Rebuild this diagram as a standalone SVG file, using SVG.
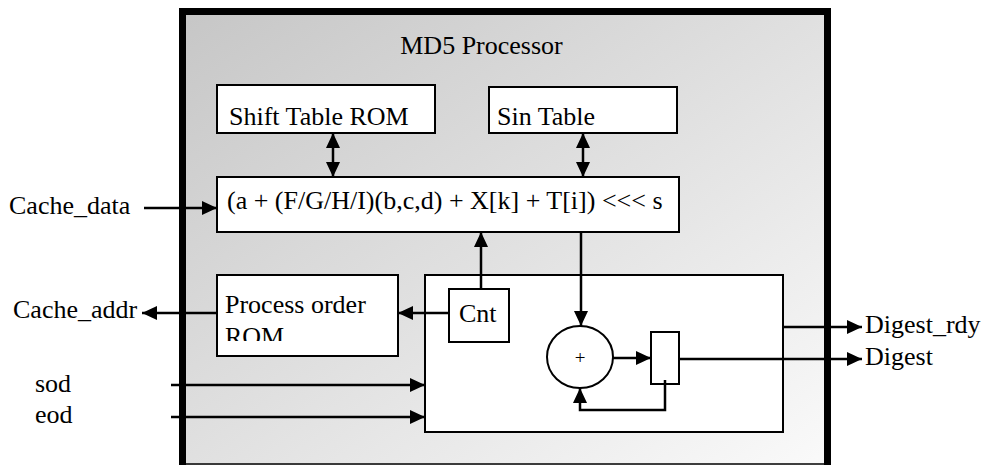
<svg xmlns="http://www.w3.org/2000/svg" width="986" height="465" viewBox="0 0 986 465">
<style>
text{font-family:"Liberation Serif","Times New Roman",serif;font-size:26px;fill:#000}
.box{fill:#fff;stroke:#000;stroke-width:2}
.ln{fill:none;stroke:#000;stroke-width:2.5}
</style>
<defs>
<linearGradient id="bg" x1="0" y1="0" x2="1" y2="1">
<stop offset="0" stop-color="#c6c6c6"/>
<stop offset="1" stop-color="#fafafa"/>
</linearGradient>
<marker id="ah" viewBox="0 0 15 14" refX="15" refY="7" markerWidth="15" markerHeight="14" markerUnits="userSpaceOnUse" orient="auto-start-reverse">
<path d="M0,0 L15,7 L0,14 Z" fill="#000"/>
</marker>
<clipPath id="romclip"><rect x="217" y="275" width="181" height="66"/></clipPath>
</defs>
<g id="processor">
<rect x="179" y="8" width="652" height="457" fill="url(#bg)"/>
<path d="M182.5,465 V11.5 H827.5 V465" fill="none" stroke="#000" stroke-width="7"/>
<line x1="179" y1="464" x2="831" y2="464" stroke="#000" stroke-width="1.5"/>
<text x="481.5" y="54" text-anchor="middle">MD5 Processor</text>
</g>
<g id="shift-table">
<rect class="box" x="217" y="85" width="218" height="48"/>
<text x="229" y="125">Shift Table ROM</text>
</g>
<g id="sin-table">
<rect class="box" x="489" y="87" width="188" height="46"/>
<text x="497" y="125">Sin Table</text>
</g>
<g id="formula">
<rect class="box" x="217" y="177" width="462" height="55"/>
<text x="227" y="209">(a + (F/G/H/I)(b,c,d) + X[k] + T[i]) &lt;&lt;&lt; s</text>
</g>
<g id="process-order-rom">
<rect class="box" x="217" y="275" width="181" height="81"/>
<text x="225" y="313">Process order</text>
<text x="225" y="345" clip-path="url(#romclip)">ROM</text>
</g>
<g id="control">
<rect class="box" x="425" y="275" width="358" height="157"/>
</g>
<g id="cnt">
<rect class="box" x="449" y="289" width="60" height="53"/>
<text x="459" y="322">Cnt</text>
</g>
<g id="adder">
<ellipse cx="580" cy="357" rx="33" ry="31" fill="#fff" stroke="#000" stroke-width="2"/>
<text x="580" y="364" text-anchor="middle" style="font-size:19px">+</text>
</g>
<g id="register">
<rect class="box" x="651" y="332" width="28" height="52"/>
</g>
<g id="labels">
<text x="9" y="214">Cache_data</text>
<text x="13" y="318">Cache_addr</text>
<text x="35" y="392">sod</text>
<text x="35" y="423">eod</text>
<text x="865" y="333">Digest_rdy</text>
<text x="865" y="365">Digest</text>
</g>
<g id="connectors">
<line class="ln" x1="333" y1="133" x2="333" y2="177" marker-start="url(#ah)" marker-end="url(#ah)"/>
<line class="ln" x1="583" y1="133" x2="583" y2="177" marker-start="url(#ah)" marker-end="url(#ah)"/>
<line class="ln" x1="144" y1="208" x2="217" y2="208" marker-end="url(#ah)"/>
<line class="ln" x1="217" y1="313" x2="142" y2="313" marker-end="url(#ah)"/>
<line class="ln" x1="449" y1="313" x2="398" y2="313" marker-end="url(#ah)"/>
<line class="ln" x1="481" y1="289" x2="481" y2="232" marker-end="url(#ah)"/>
<line class="ln" x1="581" y1="232" x2="581" y2="326" marker-end="url(#ah)"/>
<line class="ln" x1="613" y1="358" x2="651" y2="358" marker-end="url(#ah)"/>
<polyline class="ln" points="665,380 665,410 580,410 580,388" marker-end="url(#ah)"/>
<line class="ln" x1="679" y1="359" x2="862" y2="359" marker-end="url(#ah)"/>
<line class="ln" x1="783" y1="327" x2="862" y2="327" marker-end="url(#ah)"/>
<line class="ln" x1="171" y1="385" x2="425" y2="385" marker-end="url(#ah)"/>
<line class="ln" x1="171" y1="417" x2="425" y2="417" marker-end="url(#ah)"/>
</g>
</svg>
